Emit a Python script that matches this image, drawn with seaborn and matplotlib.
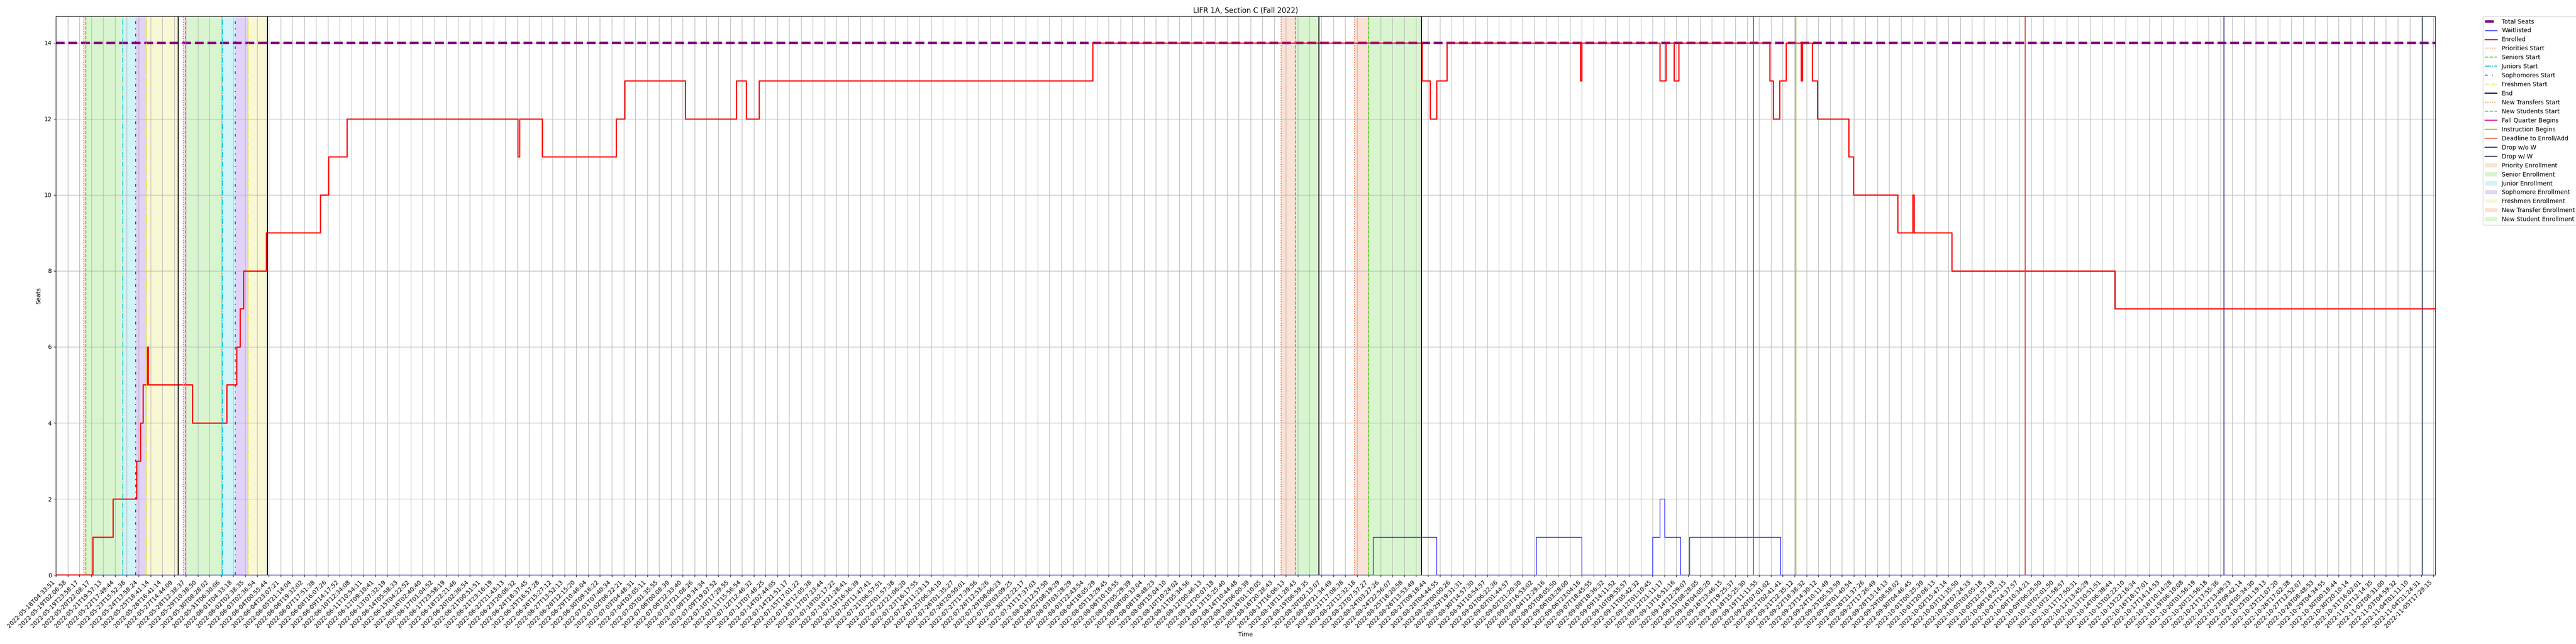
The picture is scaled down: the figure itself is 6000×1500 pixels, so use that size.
import matplotlib
matplotlib.use("Agg")
import matplotlib.pyplot as plt
import seaborn as sns

# 标题与坐标轴
title = "LIFR 1A, Section C (Fall 2022)"
total_seats = 14

# x 轴刻度 (每个刻度对应一个采样时间)
tick_labels = [
    "2022-05-18T04:33:51", "2022-05-19T02:06:58", "2022-05-19T23:58:17", "2022-05-20T22:08:17",
    "2022-05-21T19:57:13", "2022-05-22T17:49:44", "2022-05-23T15:52:38", "2022-05-24T13:58:24",
    "2022-05-25T18:41:14", "2022-05-26T16:41:14", "2022-05-27T14:44:09", "2022-05-28T12:38:37",
    "2022-05-29T10:38:50", "2022-05-30T08:28:02", "2022-05-31T06:30:06", "2022-06-01T04:33:18",
    "2022-06-02T02:38:35", "2022-06-03T02:36:54", "2022-06-04T00:55:44", "2022-06-04T23:07:21",
    "2022-06-05T21:14:04", "2022-06-06T19:32:02", "2022-06-07T17:51:38", "2022-06-08T16:07:26",
    "2022-06-09T14:17:52", "2022-06-10T12:34:08", "2022-06-11T10:54:11", "2022-06-12T09:10:41",
    "2022-06-13T07:32:19", "2022-06-14T05:58:33", "2022-06-15T04:22:52", "2022-06-16T02:40:40",
    "2022-06-17T01:04:52", "2022-06-17T23:58:19", "2022-06-18T22:21:46", "2022-06-20T02:36:54",
    "2022-06-21T00:51:51", "2022-06-21T23:16:19", "2022-06-22T21:43:13", "2022-06-23T20:06:32",
    "2022-06-24T18:37:45", "2022-06-25T16:57:28", "2022-06-26T15:27:12", "2022-06-27T13:52:13",
    "2022-06-28T12:15:20", "2022-06-29T10:46:04", "2022-06-30T09:16:22", "2022-07-01T07:40:34",
    "2022-07-02T06:22:21", "2022-07-03T04:48:31", "2022-07-04T03:05:11", "2022-07-05T01:35:55",
    "2022-07-06T00:08:39", "2022-07-06T22:33:40", "2022-07-07T21:08:26", "2022-07-08T19:34:34",
    "2022-07-09T19:07:52", "2022-07-10T17:29:55", "2022-07-11T15:56:54", "2022-07-12T12:46:32",
    "2022-07-13T07:48:25", "2022-07-14T02:44:05", "2022-07-14T21:51:17", "2022-07-15T17:01:22",
    "2022-07-16T12:05:38", "2022-07-17T07:23:44", "2022-07-18T02:17:22", "2022-07-18T21:28:41",
    "2022-07-19T16:36:39", "2022-07-20T11:47:41", "2022-07-21T06:57:51", "2022-07-22T01:57:38",
    "2022-07-22T21:06:20", "2022-07-23T16:17:55", "2022-07-24T11:23:13", "2022-07-25T06:34:10",
    "2022-07-26T01:35:27", "2022-07-26T20:50:01", "2022-07-27T17:39:56", "2022-07-28T12:53:26",
    "2022-07-29T08:06:23", "2022-07-30T03:09:25", "2022-07-30T22:22:17", "2022-07-31T17:37:03",
    "2022-08-01T12:57:50", "2022-08-02T08:19:29", "2022-08-03T03:28:29", "2022-08-03T22:43:54",
    "2022-08-04T18:05:29", "2022-08-05T13:29:45", "2022-08-06T10:10:55", "2022-08-07T05:29:39",
    "2022-08-08T00:33:04", "2022-08-08T19:48:23", "2022-08-09T15:04:10", "2022-08-10T10:24:02",
    "2022-08-11T05:34:56", "2022-08-12T00:46:13", "2022-08-12T20:07:18", "2022-08-13T15:25:40",
    "2022-08-14T10:44:48", "2022-08-15T06:00:39", "2022-08-16T01:10:05", "2022-08-16T20:28:43",
    "2022-08-17T16:06:13", "2022-08-18T11:28:43", "2022-08-19T06:59:35", "2022-08-20T02:13:07",
    "2022-08-20T21:34:49", "2022-08-21T17:08:38", "2022-08-22T12:32:18", "2022-08-23T07:57:27",
    "2022-08-24T03:27:26", "2022-08-24T22:56:07", "2022-08-25T18:20:58", "2022-08-26T13:53:49",
    "2022-08-27T09:18:44", "2022-08-28T04:44:55", "2022-08-29T00:00:26", "2022-08-29T19:31:31",
    "2022-08-30T14:57:30", "2022-08-31T10:54:57", "2022-09-01T06:22:36", "2022-09-02T01:44:57",
    "2022-09-02T21:20:30", "2022-09-03T16:53:02", "2022-09-04T12:29:16", "2022-09-05T08:05:50",
    "2022-09-06T03:28:00", "2022-09-06T23:04:16", "2022-09-07T18:45:55", "2022-09-08T18:36:32",
    "2022-09-09T14:11:52", "2022-09-10T09:55:57", "2022-09-11T05:42:32", "2022-09-12T01:10:45",
    "2022-09-12T21:11:17", "2022-09-13T16:51:16", "2022-09-14T12:29:07", "2022-09-15T08:28:05",
    "2022-09-16T04:05:20", "2022-09-16T23:46:15", "2022-09-17T19:25:37", "2022-09-18T15:25:30",
    "2022-09-19T11:11:55", "2022-09-20T07:01:02", "2022-09-21T02:41:41", "2022-09-21T22:35:12",
    "2022-09-22T18:38:32", "2022-09-23T14:30:12", "2022-09-24T10:11:49", "2022-09-25T05:53:59",
    "2022-09-26T01:40:54", "2022-09-26T21:37:26", "2022-09-27T17:26:49", "2022-09-28T13:14:13",
    "2022-09-29T08:58:02", "2022-09-30T04:46:45", "2022-10-01T00:25:39", "2022-10-01T20:08:13",
    "2022-10-02T15:47:14", "2022-10-03T11:35:50", "2022-10-04T07:24:33", "2022-10-05T03:05:18",
    "2022-10-05T22:57:19", "2022-10-06T18:52:15", "2022-10-07T14:37:57", "2022-10-08T10:34:21",
    "2022-10-09T06:25:50", "2022-10-10T02:01:50", "2022-10-10T21:58:57", "2022-10-11T17:50:31",
    "2022-10-12T13:45:29", "2022-10-13T10:51:51", "2022-10-14T06:38:44", "2022-10-15T02:22:10",
    "2022-10-15T22:16:34", "2022-10-16T18:17:01", "2022-10-17T14:14:53", "2022-10-18T10:14:28",
    "2022-10-19T06:10:08", "2022-10-20T01:56:19", "2022-10-20T21:56:18", "2022-10-21T17:55:36",
    "2022-10-22T13:49:23", "2022-10-23T09:42:14", "2022-10-24T05:34:30", "2022-10-25T01:19:13",
    "2022-10-25T21:07:20", "2022-10-26T17:02:38", "2022-10-27T12:52:07", "2022-10-28T08:48:53",
    "2022-10-29T04:34:55", "2022-10-30T00:18:44", "2022-10-30T20:10:14", "2022-10-31T16:02:01",
    "2022-11-01T12:14:35", "2022-11-02T08:31:00", "2022-11-03T04:59:32", "2022-11-04T01:11:10",
    "2022-11-04T21:24:31", "2022-11-05T17:29:15",
]
x_end = 201.15  # 最后一个采样点 (以刻度为单位)

# 已选人数 (阶梯变化点)
enrolled_x = [0, 3.12, 4.82, 6.82, 7.16, 7.37, 7.71, 7.78, 11.53, 14.45,
              15.28, 15.56, 15.84, 17.78, 22.37, 23.06, 24.59, 39.04, 39.2, 41.12,
              47.37, 48.07, 53.21, 57.51, 58.35, 59.46, 87.66, 115.5, 116.19, 116.73,
              117.6, 128.9, 129.0, 135.6, 136.1, 136.8, 137.2, 144.89, 145.17, 145.72,
              146.28, 147.53, 147.67, 148.5, 148.92, 151.56, 151.97, 155.72, 156.97, 157.1,
              160.3, 174.08, x_end]
enrolled_y = [0, 1, 2, 3, 4, 5, 6, 5, 4, 5,
              6, 7, 8, 9, 10, 11, 12, 11, 12, 11,
              12, 13, 12, 13, 12, 13, 14, 13, 12, 13,
              14, 13, 14, 13, 14, 13, 14, 13, 12, 13,
              14, 13, 14, 13, 12, 11, 10, 9, 10, 9,
              8, 7, 7]

# 候补人数
waitlist_x = [0, 111.36, 116.73, 125.14, 129.0, 135.0, 135.6, 136.0, 137.35, 138.1, 145.8, x_end]
waitlist_y = [0, 1, 0, 1, 0, 1, 2, 1, 0, 1, 0, 0]

# 选课阶段 (两轮)
pass_starts = {
    "Priorities Start": [2.35, 10.76],
    "Seniors Start": [2.52, 10.97],
    "Juniors Start": [5.65, 14.07],
    "Sophomores Start": [6.75, 15.18],
    "Freshmen Start": [7.65, 16.27],
}
pass_ends = [10.34, 17.90]
new_transfers_start = [103.6, 109.8]
new_students_start = [104.8, 111.0]
new_ends = [106.8, 115.46]

term_events = {
    "Fall Quarter Begins": 143.5,
    "Instruction Begins": 147.1,
    "Deadline to Enroll/Add": 166.5,
    "Drop w/o W": 183.3,
    "Drop w/ W": 200.1,
}

colors = {
    "Priorities Start": "#ee6a35", "Seniors Start": "#3fce10", "Juniors Start": "#14c8d8",
    "Sophomores Start": "#6a1edc", "Freshmen Start": "#e0e030",
    "Fall Quarter Begins": "#e0119d", "Instruction Begins": "#8db31c",
    "Deadline to Enroll/Add": "#d9481e", "Drop w/o W": "#2b2a8c", "Drop w/ W": "#2c3a5c",
}
styles = {
    "Priorities Start": ":", "Seniors Start": "--", "Juniors Start": "-.",
    "Sophomores Start": (0, (3, 5, 1, 5)), "Freshmen Start": (0, (3, 1, 1, 1, 1, 1)),
}
span_names = {
    "Priorities Start": "Priority Enrollment", "Seniors Start": "Senior Enrollment",
    "Juniors Start": "Junior Enrollment", "Sophomores Start": "Sophomore Enrollment",
    "Freshmen Start": "Freshmen Enrollment",
}

fig = plt.figure(figsize=(60, 15), dpi=100)
ax = fig.add_subplot(111)
fig.subplots_adjust(left=0.0217, right=0.9453, top=0.9747, bottom=0.1073)

sns.lineplot(x=[0, x_end], y=[total_seats, total_seats], color="purple", lw=4, ls="--",
             label="Total Seats", ax=ax)
sns.lineplot(x=waitlist_x, y=waitlist_y, drawstyle="steps-post", color="blue", lw=1,
             label="Waitlisted", ax=ax)
sns.lineplot(x=enrolled_x, y=enrolled_y, drawstyle="steps-post", color="red", lw=2,
             label="Enrolled", ax=ax)

# 竖线
names = list(pass_starts)
for i in range(2):
    for n in names:
        ax.axvline(pass_starts[n][i], color=colors[n], ls=styles[n], lw=1.5,
                   label=n if i == 0 else None)
    ax.axvline(pass_ends[i], color="black", lw=1.5, label="End" if i == 0 else None)
for i in range(2):
    ax.axvline(new_transfers_start[i], color=colors["Priorities Start"], ls=":", lw=1.5,
               label="New Transfers Start" if i == 0 else None)
    ax.axvline(new_students_start[i], color=colors["Seniors Start"], ls="--", lw=1.5,
               label="New Students Start" if i == 0 else None)
    ax.axvline(new_ends[i], color="black", lw=1.5)
for n, x in term_events.items():
    ax.axvline(x, color=colors[n], lw=1.5, label=n)

# 阴影区间
for i in range(2):
    bounds = [pass_starts[n][i] for n in names] + [pass_ends[i]]
    for j, n in enumerate(names):
        ax.axvspan(bounds[j], bounds[j + 1], color=colors[n], alpha=0.2, lw=0,
                   label=span_names[n] if i == 0 else None)
for i in range(2):
    ax.axvspan(new_transfers_start[i], new_students_start[i], color=colors["Priorities Start"],
               alpha=0.2, lw=0, label="New Transfer Enrollment" if i == 0 else None)
    ax.axvspan(new_students_start[i], new_ends[i], color=colors["Seniors Start"],
               alpha=0.2, lw=0, label="New Student Enrollment" if i == 0 else None)

ax.set_xticks(range(len(tick_labels)))
ax.set_xticklabels(tick_labels, rotation=45, ha="right")
ax.set_xlim(0, x_end)
ax.set_ylim(0, 14.7)
ax.grid(True)
ax.set_title(title)
ax.set_xlabel("Time")
ax.set_ylabel("Seats")
ax.legend(loc="upper left", bbox_to_anchor=(1.02, 1), borderaxespad=0)

fig.savefig("out.png")
